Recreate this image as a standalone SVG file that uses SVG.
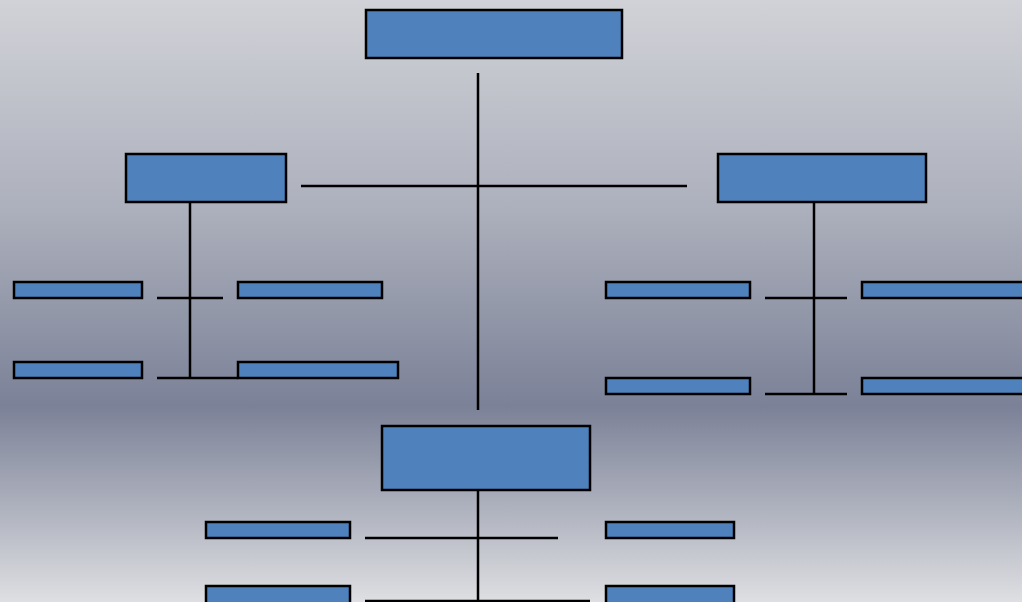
<svg xmlns="http://www.w3.org/2000/svg" width="1022" height="602" viewBox="0 0 1022 602">
<defs>
<linearGradient id="bg" x1="0" y1="0" x2="0" y2="1">
<stop offset="0" stop-color="#d1d2d7"/>
<stop offset="0.35" stop-color="#acb0bc"/>
<stop offset="0.675" stop-color="#7b8197"/>
<stop offset="1" stop-color="#dedfe2"/>
</linearGradient>
<style>
.n rect{fill:#4f81bd;stroke:#000;stroke-width:2.5}
.c line{stroke:#000;stroke-width:2.5;fill:none}
</style>
</defs>
<rect x="0" y="0" width="1022" height="602" fill="url(#bg)"/>
<g id="connectors" class="c">
<line x1="478" y1="73" x2="478" y2="410"/>
<line x1="301" y1="186" x2="687" y2="186"/>
<line x1="190" y1="202" x2="190" y2="378"/>
<line x1="157" y1="298" x2="223" y2="298"/>
<line x1="157" y1="378" x2="238" y2="378"/>
<line x1="814" y1="202" x2="814" y2="394"/>
<line x1="765" y1="298" x2="847" y2="298"/>
<line x1="765" y1="394" x2="847" y2="394"/>
<line x1="478" y1="490" x2="478" y2="602"/>
<line x1="365" y1="538" x2="558" y2="538"/>
<line x1="365" y1="601" x2="590" y2="601"/>
</g>
<g id="top" class="n"><rect x="366" y="10" width="256" height="48"/></g>
<g id="left" class="n"><rect x="126" y="154" width="160" height="48"/></g>
<g id="right" class="n"><rect x="718" y="154" width="208" height="48"/></g>
<g id="bottom" class="n"><rect x="382" y="426" width="208" height="64"/></g>
<g id="l1" class="n"><rect x="14" y="282" width="128" height="16"/></g>
<g id="l2" class="n"><rect x="238" y="282" width="144" height="16"/></g>
<g id="l3" class="n"><rect x="14" y="362" width="128" height="16"/></g>
<g id="l4" class="n"><rect x="238" y="362" width="160" height="16"/></g>
<g id="r1" class="n"><rect x="606" y="282" width="144" height="16"/></g>
<g id="r2" class="n"><rect x="862" y="282" width="162" height="16"/></g>
<g id="r3" class="n"><rect x="606" y="378" width="144" height="16"/></g>
<g id="r4" class="n"><rect x="862" y="378" width="162" height="16"/></g>
<g id="b1" class="n"><rect x="206" y="522" width="144" height="16"/></g>
<g id="b2" class="n"><rect x="606" y="522" width="128" height="16"/></g>
<g id="b3" class="n"><rect x="206" y="586" width="144" height="18"/></g>
<g id="b4" class="n"><rect x="606" y="586" width="128" height="18"/></g>
</svg>
